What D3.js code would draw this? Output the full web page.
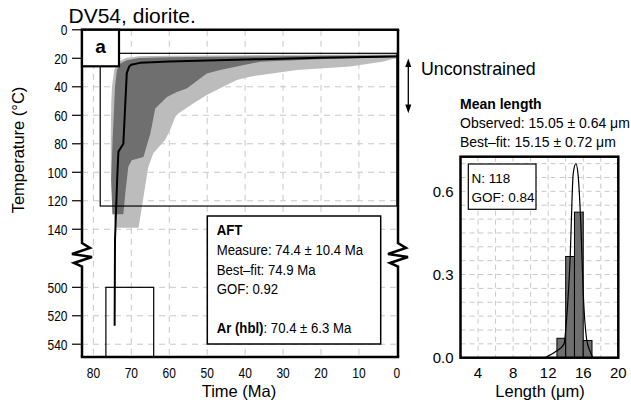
<!DOCTYPE html>
<html><head><meta charset="utf-8">
<script src="https://cdn.jsdelivr.net/npm/d3@7"></script>
<style>body{margin:0;background:#fff}svg{display:block;font-family:"Liberation Sans",Arial,Helvetica,sans-serif}</style>
</head><body><svg id="c" width="631" height="409"></svg>
<script>
// ---------- data ----------
const timeTicks = [80,70,60,50,40,30,20,10,0];
const tempTicks = [0,20,40,60,80,100,120,140,500,520,540];
// best-fit t-T path [time Ma, temperature °C]
const bestFit = [[74.4,527],[74.3,147.5],[73.7,103],[73.4,85.5],[72.1,80],[71.2,30.4],[70.6,26],[70.05,24.6],[67.7,23.2],[60,22.2],[50,21.6],[36,20.6],[20,19.7],[0,18.8]];
// acceptable-fit envelope (light): outer (upper/left) and inner (lower/right) edges
const accOuter = [[74.25,139],[74.9,124],[75.4,105],[75.4,75],[75.3,52],[75.1,40],[74.5,28],[73.4,22.4],[71.6,20],[68,18.6],[60,18.2],[40,17.8],[20,17.5],[0,17.2]];
const accInner = [[0,19.6],[3.5,22.3],[12.3,25.8],[26.3,28.2],[38.7,32.9],[42.2,35.2],[46.6,41.1],[50.1,45.8],[53.6,51.6],[57.6,58.7],[58.4,61],[59.8,70.3],[61.1,77.3],[64.2,86.7],[65.5,96.2],[66.1,105.6],[67.2,124.4],[68.1,139]];
// good-fit envelope (dark)
const goodOuter = [[75,129.5],[75.3,105],[74.9,75],[74.5,52],[74.3,40],[73.8,28.2],[72.8,23.4],[71.2,21.3],[68,19.8],[60,19.3],[40,18.8],[20,18.3],[0,17.9]];
const goodInner = [[0,19.1],[21,20.7],[36,22.4],[42.2,25.8],[46.6,28.2],[50.1,30.6],[55.4,41.2],[58,43.6],[60.6,47.1],[63.7,55.3],[64.3,63.5],[65,72.9],[66.8,89.3],[69.9,91.6],[70.8,96.2],[71.6,115],[72.1,129.5]];
// constraint boxes [tStart, tEnd, Ttop, Tbottom]
const aftBox = [78.2, 0, 16.5, 123.7];
const arBox = [76.7, 64.1, 500, 549];
const aftLines = ["Measure: 74.4 \u00b1 10.4 Ma","Best\u2013fit: 74.9 Ma","GOF: 0.92"];
// histogram
const binStart = [13,14,15,16];
const binFreq = [0.07,0.365,0.525,0.062];
const modelLen = [11.6,12.95,13.8,14.1,14.5,14.86,15.17,15.43,15.74,16.0,16.39,16.77,17.1];
const modelProb = [0,0.024,0.049,0.138,0.354,0.665,0.70,0.653,0.47,0.234,0.066,0.024,0];
const lenTicks = [4,8,12,16,20];
const freqTicks = [0.0,0.3,0.6];

// ---------- main panel ----------
const svg = d3.select("#c");
const x = d3.scaleLinear().domain([83,-0.3]).range([82,398]);
const y = d3.scaleLinear().domain([0,150,485,549]).range([29.8,243.5,266,357]);
const L=82,R=398,T=29.8,B=357;

svg.append("defs").append("clipPath").attr("id","mc").append("rect")
  .attr("x",L).attr("y",T).attr("width",R-L).attr("height",B-T);

const grid = svg.append("g").attr("stroke","#c8c8c8").attr("stroke-width",1).attr("stroke-dasharray","6,5");
timeTicks.filter(d=>d>0).forEach(d=>grid.append("line").attr("x1",x(d)).attr("x2",x(d)).attr("y1",T).attr("y2",B));
tempTicks.filter(d=>d>0).forEach(d=>grid.append("line").attr("x1",L).attr("x2",R).attr("y1",y(d)).attr("y2",y(d)));

const pg = svg.append("g").attr("clip-path","url(#mc)");
const area = (outer,inner)=>"M"+outer.concat(inner).map(p=>[x(p[0]),y(p[1])].join(",")).join("L")+"Z";
pg.append("path").attr("d",area(accOuter,accInner)).attr("fill","#bcbcbc");
pg.append("path").attr("d",area(goodOuter,goodInner)).attr("fill","#6f6f6f");
pg.append("path").attr("d",d3.line().x(d=>x(d[0])).y(d=>y(d[1]))(bestFit))
  .attr("fill","none").attr("stroke","#000").attr("stroke-width",2).attr("stroke-linejoin","round");
// constraint boxes
pg.append("rect").attr("x",x(aftBox[0])).attr("y",y(aftBox[2])).attr("width",x(aftBox[1])-x(aftBox[0])).attr("height",y(aftBox[3])-y(aftBox[2]))
  .attr("fill","none").attr("stroke","#000").attr("stroke-width",1.2);
pg.append("rect").attr("x",x(arBox[0])).attr("y",y(arBox[2])).attr("width",x(arBox[1])-x(arBox[0])).attr("height",y(arBox[3])-y(arBox[2]))
  .attr("fill","none").attr("stroke","#000").attr("stroke-width",1.2);

// frame with axis breaks
const b0=y(150)-0.5, b1=y(485)+0.5;
const brk = (xx)=>`M${xx},${T}L${xx},${b0}L${xx+8},${b0+5}L${xx-10},${b0+11}L${xx+10},${b0+14}L${xx-8},${b0+20}L${xx},${b1}L${xx},${B}`;
const fr = svg.append("g").attr("fill","none").attr("stroke","#000").attr("stroke-width",2.5).attr("stroke-linejoin","miter");
fr.append("path").attr("d",brk(L));
fr.append("path").attr("d",brk(R));
fr.append("line").attr("x1",L-1.2).attr("x2",R+1.2).attr("y1",T).attr("y2",T);
fr.append("line").attr("x1",L-1.2).attr("x2",R+1.2).attr("y1",B).attr("y2",B);

// y ticks
const tk = svg.append("g");
tempTicks.forEach(d=>{
  tk.append("line").attr("x1",L-10).attr("x2",L).attr("y1",y(d)).attr("y2",y(d)).attr("stroke","#000").attr("stroke-width",1.2);
  tk.append("text").attr("transform",`translate(${L-14.5},${y(d)+5.3}) scale(0.8,1)`).attr("text-anchor","end")
    .attr("font-size",15).text(d);
});
timeTicks.forEach(d=>{
  tk.append("text").attr("transform",`translate(${x(d)},378.3) scale(0.8,1)`).attr("text-anchor","middle")
    .attr("font-size",15).text(d);
});
svg.append("text").attr("x",239).attr("y",396.7).attr("text-anchor","middle").attr("font-size",16.5).text("Time (Ma)");
svg.append("text").attr("transform","translate(24,150) rotate(-90)").attr("text-anchor","middle").attr("font-size",16.5).text("Temperature (\u00b0C)");
svg.append("text").attr("x",68.5).attr("y",22.8).attr("font-size",21).text("DV54, diorite.");

// "a" label
svg.append("rect").attr("x",82).attr("y",29.8).attr("width",37).attr("height",36.5).attr("fill","#fff").attr("stroke","#000").attr("stroke-width",2.2);
svg.append("text").attr("x",100.5).attr("y",53.3).attr("text-anchor","middle").attr("font-size",19).attr("font-weight","bold").text("a");

// AFT box
svg.append("rect").attr("x",207.3).attr("y",216).attr("width",173.4).attr("height",128).attr("fill","#fff").attr("stroke","#000").attr("stroke-width",1.5);
const bt = svg.append("g").attr("font-size",15.5);
bt.append("text").attr("transform","translate(216.7,235) scale(0.85,1)").attr("font-weight","bold").text("AFT");
aftLines.forEach((s,i)=>bt.append("text").attr("transform",`translate(216.7,${255.3+i*19.4}) scale(0.85,1)`).text(s));
const ar = bt.append("text").attr("transform","translate(216.7,333.3) scale(0.85,1)");
ar.append("tspan").attr("font-weight","bold").text("Ar (hbl)");
ar.append("tspan").text(": 70.4 \u00b1 6.3 Ma");

// Unconstrained arrow
const ag = svg.append("g").attr("stroke","#000").attr("fill","#000");
ag.append("line").attr("x1",408.3).attr("x2",408.3).attr("y1",62).attr("y2",109).attr("stroke-width",1.3);
ag.append("path").attr("d","M405.3,67L408.3,58.5L411.3,67Z").attr("stroke","none");
ag.append("path").attr("d","M405.3,104.5L408.3,113.3L411.3,104.5Z").attr("stroke","none");
svg.append("text").attr("x",421).attr("y",75).attr("font-size",17.8).text("Unconstrained");

// ---------- histogram ----------
const hx = d3.scaleLinear().domain([2,20]).range([460.5,618.3]);
const hy = d3.scaleLinear().domain([0,0.725]).range([357.7,156.7]);
const hL=hx(2),hR=hx(20),hT=hy(0.725),hB=hy(0);
const hg = svg.append("g").attr("stroke","#c8c8c8").attr("stroke-width",1).attr("stroke-dasharray","5,4");
d3.range(4,20,2).forEach(d=>hg.append("line").attr("x1",hx(d)).attr("x2",hx(d)).attr("y1",hT).attr("y2",hB));
d3.range(1,15).forEach(i=>hg.append("line").attr("x1",hL).attr("x2",hR).attr("y1",hy(i*0.05)).attr("y2",hy(i*0.05)));
svg.append("g").selectAll("rect").data(binStart).join("rect")
  .attr("x",d=>hx(d)).attr("width",d=>hx(d+1)-hx(d))
  .attr("y",(d,i)=>hy(binFreq[i])).attr("height",(d,i)=>hB-hy(binFreq[i]))
  .attr("fill","#6f6f6f").attr("stroke","#000").attr("stroke-width",1);
svg.append("path").attr("d",d3.line().x(d=>hx(d[0])).y(d=>hy(d[1])).curve(d3.curveMonotoneX)(modelLen.map((l,i)=>[l,modelProb[i]])))
  .attr("fill","none").attr("stroke","#000").attr("stroke-width",1.2);
// N / GOF box
svg.append("rect").attr("x",468.3).attr("y",164).attr("width",67.7).attr("height",45.3).attr("fill","#fff").attr("stroke","#000").attr("stroke-width",1.2);
svg.append("text").attr("x",471.5).attr("y",182.7).attr("font-size",13.5).text("N: 118");
svg.append("text").attr("x",471.5).attr("y",201.7).attr("font-size",13.5).text("GOF: 0.84");
svg.append("rect").attr("x",hL).attr("y",hT).attr("width",hR-hL).attr("height",hB-hT).attr("fill","none").attr("stroke","#000").attr("stroke-width",2.5);
freqTicks.forEach(d=>svg.append("text").attr("x",453.5).attr("y",hy(d)+5.3).attr("text-anchor","end").attr("font-size",15).text(d.toFixed(1)));
lenTicks.forEach(d=>svg.append("text").attr("x",hx(d)).attr("y",378.3).attr("text-anchor","middle").attr("font-size",15).text(d));
svg.append("text").attr("x",540).attr("y",396.7).attr("text-anchor","middle").attr("font-size",16.5).text("Length (\u03bcm)");
svg.append("text").attr("x",460).attr("y",109.3).attr("font-size",14).attr("font-weight","bold").text("Mean length");
svg.append("text").attr("x",460).attr("y",127.5).attr("font-size",14).text("Observed: 15.05 \u00b1 0.64 \u03bcm");
svg.append("text").attr("x",460).attr("y",146.6).attr("font-size",14).text("Best\u2013fit: 15.15 \u00b1 0.72 \u03bcm");
</script></body></html>
